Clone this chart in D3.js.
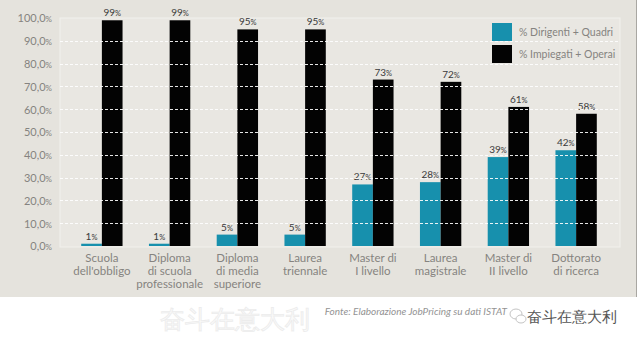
<!DOCTYPE html>
<html>
<head>
<meta charset="utf-8">
<script src="https://cdn.jsdelivr.net/npm/d3@7/dist/d3.min.js"></script>
<style>
  html, body { margin: 0; padding: 0; background: #ffffff; }
  svg { display: block; }
  text { font-family: Lato, "Open Sans", sans-serif; }
</style>
</head>
<body>
<svg id="chart" width="640" height="343"></svg>
<script>
// Titolo di studio: quota di dirigenti/quadri e impiegati/operai
const categories = [
  ["Scuola", "dell'obbligo"],
  ["Diploma", "di scuola", "professionale"],
  ["Diploma", "di media", "superiore"],
  ["Laurea", "triennale"],
  ["Master di", "I livello"],
  ["Laurea", "magistrale"],
  ["Master di", "II livello"],
  ["Dottorato", "di ricerca"]
];
const dirigentiQuadri = [1, 1, 5, 5, 27, 28, 39, 42];
const impiegatiOperai = [99, 99, 95, 95, 73, 72, 61, 58];
const seriesNames = ["% Dirigenti + Quadri", "% Impiegati + Operai"];
const seriesColors = ["#1790ad", "#030303"];
const yTicks = [0, 10, 20, 30, 40, 50, 60, 70, 80, 90, 100];

const svg = d3.select("#chart");

// paper background
svg.append("rect").attr("x", 0).attr("y", 0).attr("width", 636).attr("height", 297)
  .attr("fill", "#e5e3dd");
svg.append("line").attr("x1", 636.5).attr("x2", 636.5).attr("y1", 0).attr("y2", 297)
  .attr("stroke", "#a9a7a2").attr("stroke-width", 1);

// plot frame
const plot = { left: 60, right: 620, top: 18, bottom: 246 };
svg.append("rect")
  .attr("x", plot.left).attr("y", plot.top)
  .attr("width", plot.right - plot.left).attr("height", plot.bottom - plot.top + 1)
  .attr("fill", "#e9e7e2").attr("stroke", "#f2f1ed").attr("stroke-width", 1);

const keys = categories.map((c, i) => i);
const x = d3.scaleBand().domain(keys).range([68, 610]).paddingInner(0.39).paddingOuter(0.195);
const xs = d3.scaleBand().domain([0, 1]).range([0, x.bandwidth()]);
const y = d3.scaleLinear().domain([0, 100]).range([plot.bottom, plot.top]);

// y axis labels
const yAxis = d3.axisLeft(y).tickValues(yTicks).tickSize(0).tickPadding(0)
  .tickFormat(d => d.toFixed(1).replace(".", ","));
const gy = svg.append("g").attr("transform", "translate(52,0)").call(yAxis);
gy.select(".domain").remove();
gy.selectAll("text")
  .attr("fill", "#858380").attr("font-size", "11px").attr("dy", "0.35em")
  .each(function() {
    d3.select(this).append("tspan").attr("font-size", "8px").text("%");
  });

// bars
const data = keys.map(i => [dirigentiQuadri[i], impiegatiOperai[i]]);
const groups = svg.append("g").selectAll("g").data(data).join("g")
  .attr("transform", (d, i) => `translate(${x(i)},0)`);
groups.selectAll("rect").data(d => d.map((v, s) => ({ v, s }))).join("rect")
  .attr("x", d => xs(d.s)).attr("width", xs.bandwidth())
  .attr("y", d => y(d.v)).attr("height", d => y(0) - y(d.v))
  .attr("fill", d => seriesColors[d.s]);

// dashed gridlines drawn over the bars
svg.append("g").selectAll("line").data(yTicks.filter(t => t > 0 && t < 100)).join("line")
  .attr("x1", plot.left).attr("x2", plot.right)
  .attr("y1", d => Math.round(y(d)) + 0.5).attr("y2", d => Math.round(y(d)) + 0.5)
  .attr("stroke", "#ffffff").attr("stroke-width", 1).attr("stroke-dasharray", "3,2")
  .attr("opacity", 0.9);

// value labels
groups.selectAll("text.val").data(d => d.map((v, s) => ({ v, s }))).join("text")
  .attr("class", "val")
  .attr("x", d => xs(d.s) + xs.bandwidth() / 2)
  .attr("y", d => y(d.v) - 4)
  .attr("text-anchor", "middle").attr("fill", "#3a3a3a").attr("font-size", "10px")
  .text(d => d.v)
  .append("tspan").attr("font-size", "7.5px").text("%");

// category labels
const cat = svg.append("g").selectAll("text").data(categories).join("text")
  .attr("x", (d, i) => x(i) + x.bandwidth() / 2)
  .attr("y", 262)
  .attr("text-anchor", "middle").attr("fill", "#858380").attr("font-size", "11.5px");
cat.selectAll("tspan").data(d => d).join("tspan")
  .attr("x", function() { return d3.select(this.parentNode).attr("x"); })
  .attr("dy", (d, i) => i === 0 ? 0 : 13)
  .text(d => d);

// legend
const legend = svg.append("g").attr("transform", "translate(492,23)");
seriesNames.forEach((name, i) => {
  legend.append("rect").attr("x", 0).attr("y", i * 22).attr("width", 20).attr("height", 18)
    .attr("fill", seriesColors[i]);
  legend.append("text").attr("x", 27).attr("y", i * 22 + 9).attr("dy", "0.35em")
    .attr("fill", "#858380").attr("font-size", "10.5px").text(name);
});

// faint large watermark on the white strip
svg.append("text").attr("x", 160).attr("y", 328)
  .attr("font-family", "'Noto Sans CJK SC', sans-serif").attr("font-size", "25px")
  .attr("fill", "#fafafa").attr("stroke", "#ececec").attr("stroke-width", 0.8)
  .text("奋斗在意大利");

// source note
svg.append("text").attr("x", 507).attr("y", 315).attr("text-anchor", "end")
  .attr("font-style", "italic").attr("font-size", "10px").attr("fill", "#939393")
  .text("Fonte: Elaborazione JobPricing su dati ISTAT");

// account mark
const mark = svg.append("g").attr("transform", "translate(516,316)");
mark.append("ellipse").attr("cx", 0).attr("cy", -2).attr("rx", 6).attr("ry", 5)
  .attr("fill", "none").attr("stroke", "#c4c4c4").attr("stroke-width", 1);
mark.append("ellipse").attr("cx", 5).attr("cy", 3).attr("rx", 5).attr("ry", 4)
  .attr("fill", "#ffffff").attr("stroke", "#c4c4c4").attr("stroke-width", 1);
svg.append("text").attr("x", 527).attr("y", 322)
  .attr("font-family", "'Noto Sans CJK SC', sans-serif").attr("font-size", "15px")
  .attr("fill", "#555555").text("奋斗在意大利");
</script>
</body>
</html>
